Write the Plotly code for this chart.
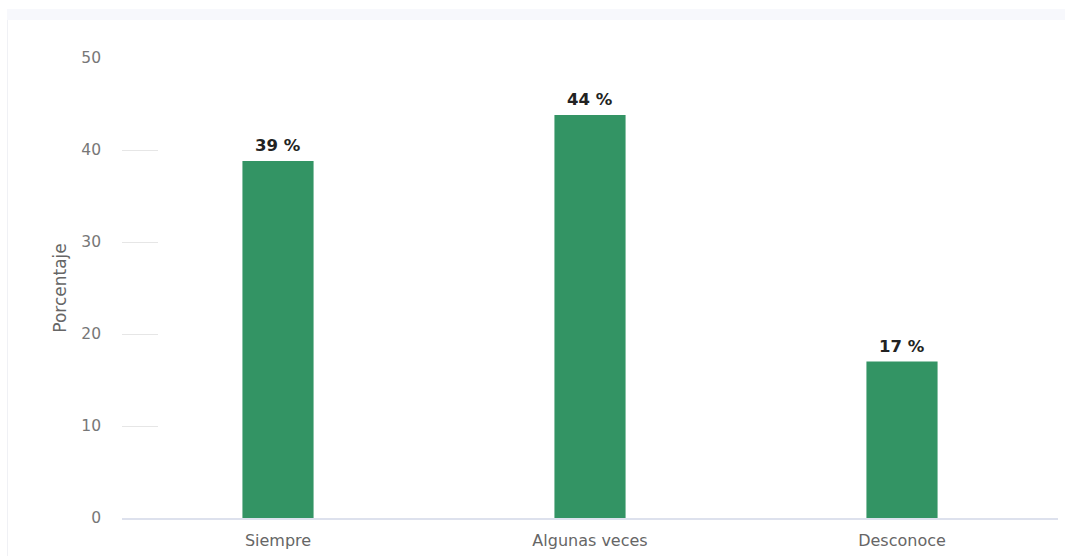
import plotly.graph_objects as go

# Survey answers and their share (%)
categorias = ["Siempre", "Algunas veces", "Desconoce"]
porcentajes = [38.8, 43.8, 17.0]
ticks_y = [0, 10, 20, 30, 40, 50]

W, H = 1065, 556
L, R, T, B = 122, 7, 58, 38
pw, ph = W - L - R, H - T - B
FONT = "DejaVu Sans"


def px_x(x):
    return (x - L) / pw


def px_y(y):
    return (H - B - y) / ph


fig = go.Figure(
    go.Bar(
        x=categorias,
        y=porcentajes,
        marker=dict(color="#339464", line=dict(width=0)),
        hoverinfo="skip",
    )
)

# value labels above each bar
for cat, val in zip(categorias, porcentajes):
    fig.add_annotation(
        x=cat, y=val, xref="x", yref="y",
        text=f"<b>{val:.0f} %</b>",
        showarrow=False, yanchor="bottom", yshift=4,
        font=dict(family=FONT, size=16.5, color="#222222"),
    )

# light header band and left card edge
fig.add_shape(type="rect", xref="paper", yref="paper",
              x0=px_x(7), x1=px_x(1065), y0=px_y(20), y1=px_y(9),
              fillcolor="#f7f8fc", line=dict(width=0), layer="below")
fig.add_shape(type="line", xref="paper", yref="paper",
              x0=px_x(7.5), x1=px_x(7.5), y0=px_y(556), y1=px_y(20),
              line=dict(color="#f0f1f5", width=1), layer="below")

fig.update_layout(
    width=W,
    height=H,
    margin=dict(l=L, r=R, t=T, b=B, autoexpand=False),
    paper_bgcolor="white",
    plot_bgcolor="white",
    bargap=0.772,
    showlegend=False,
    font=dict(family=FONT, color="#777777"),
    xaxis=dict(
        showgrid=False,
        showline=True,
        linecolor="#dde1ed",
        linewidth=2,
        ticks="",
        ticklabelstandoff=7,
        tickfont=dict(size=16, color="#666666"),
        fixedrange=True,
    ),
    yaxis=dict(
        range=[0, 50],
        tickvals=ticks_y,
        showgrid=False,
        zeroline=False,
        showline=False,
        ticks="inside",
        ticklen=36,
        tickwidth=1,
        tickcolor="#e6e6e6",
        ticklabelstandoff=20,
        tickfont=dict(size=15.5, color="#777777"),
        title=dict(text="Porcentaje", font=dict(size=17, color="#666666"), standoff=10),
        fixedrange=True,
    ),
)

fig.write_html("out.html", config={"displayModeBar": False})
